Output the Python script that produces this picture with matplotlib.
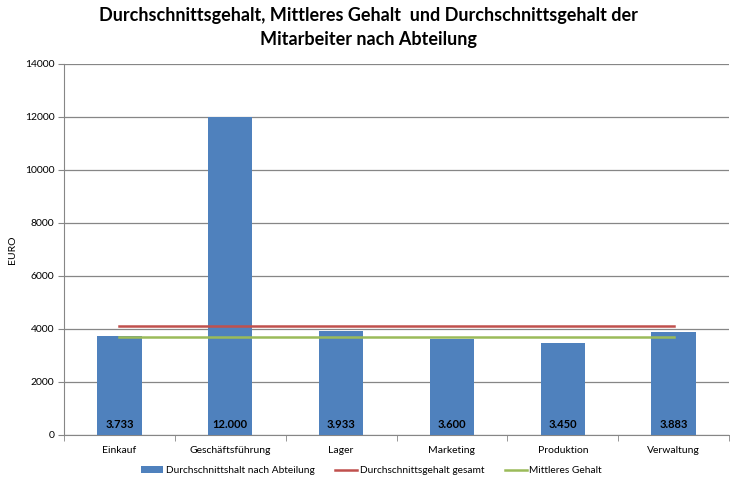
import numpy as np
import matplotlib.pyplot as plt
from matplotlib.ticker import MultipleLocator

plt.rcParams['font.family'] = ['Lato', 'DejaVu Sans']

abteilungen = ["Einkauf", "Geschäftsführung", "Lager", "Marketing", "Produktion", "Verwaltung"]
gehalt_abteilung = [3733, 12000, 3933, 3600, 3450, 3883]
gehalt_gesamt = [4120] * 6
mittleres_gehalt = [3705] * 6
wert_labels = ["3.733", "12.000", "3.933", "3.600", "3.450", "3.883"]

fig = plt.figure(figsize=(7.3, 4.8), dpi=100)
ax = fig.add_axes([0.0877, 0.094, 0.911, 0.773])

x = np.arange(len(abteilungen))
bars = ax.bar(x, gehalt_abteilung, width=0.4, color="#4f81bd", zorder=3,
              label="Durchschnittshalt nach Abteilung")
l1, = ax.plot(x, gehalt_gesamt, color="#c0504d", linewidth=1.8, zorder=4,
              label="Durchschnittsgehalt gesamt")
l2, = ax.plot(x, mittleres_gehalt, color="#9bbb59", linewidth=1.8, zorder=4,
              label="Mittleres Gehalt")

for xi, txt in zip(x, wert_labels):
    ax.text(xi, 380, txt, ha="center", va="center", fontsize=8,
            fontweight="bold", color="black", zorder=5)

ax.set_xlim(-0.5, len(abteilungen) - 0.5)
ax.set_ylim(0, 14000)
ax.yaxis.set_major_locator(MultipleLocator(2000))
ax.grid(axis="y", color="#868686", linewidth=0.9, zorder=0)

ax.set_xticks(x)
ax.set_xticklabels(abteilungen, fontsize=7.5)
ax.set_xticks(np.arange(-0.5, len(abteilungen)), minor=True)
ax.tick_params(axis="x", which="major", length=0, pad=8)
ax.tick_params(axis="x", which="minor", length=4, color="#868686", direction="out")
ax.tick_params(axis="y", labelsize=7.5, length=4, color="#868686", pad=3)

for s in ["top", "right"]:
    ax.spines[s].set_visible(False)
for s in ["left", "bottom"]:
    ax.spines[s].set_color("#868686")

ax.set_ylabel("EURO", fontsize=7.5)
ax.yaxis.set_label_coords(-0.071, 0.5)

fig.suptitle("Durchschnittsgehalt, Mittleres Gehalt  und Durchschnittsgehalt der\nMitarbeiter nach Abteilung",
             x=0.505, y=0.985, fontsize=13, fontweight="bold", linespacing=1.45)

fig.legend([bars, l1, l2],
           ["Durchschnittshalt nach Abteilung", "Durchschnittsgehalt gesamt", "Mittleres Gehalt"],
           loc="center", bbox_to_anchor=(0.509, 0.02), ncol=3, frameon=False,
           fontsize=7.3, handlelength=2.2, handleheight=0.6, columnspacing=2.0,
           handletextpad=0.25)

fig.savefig("out.png", dpi=100)
